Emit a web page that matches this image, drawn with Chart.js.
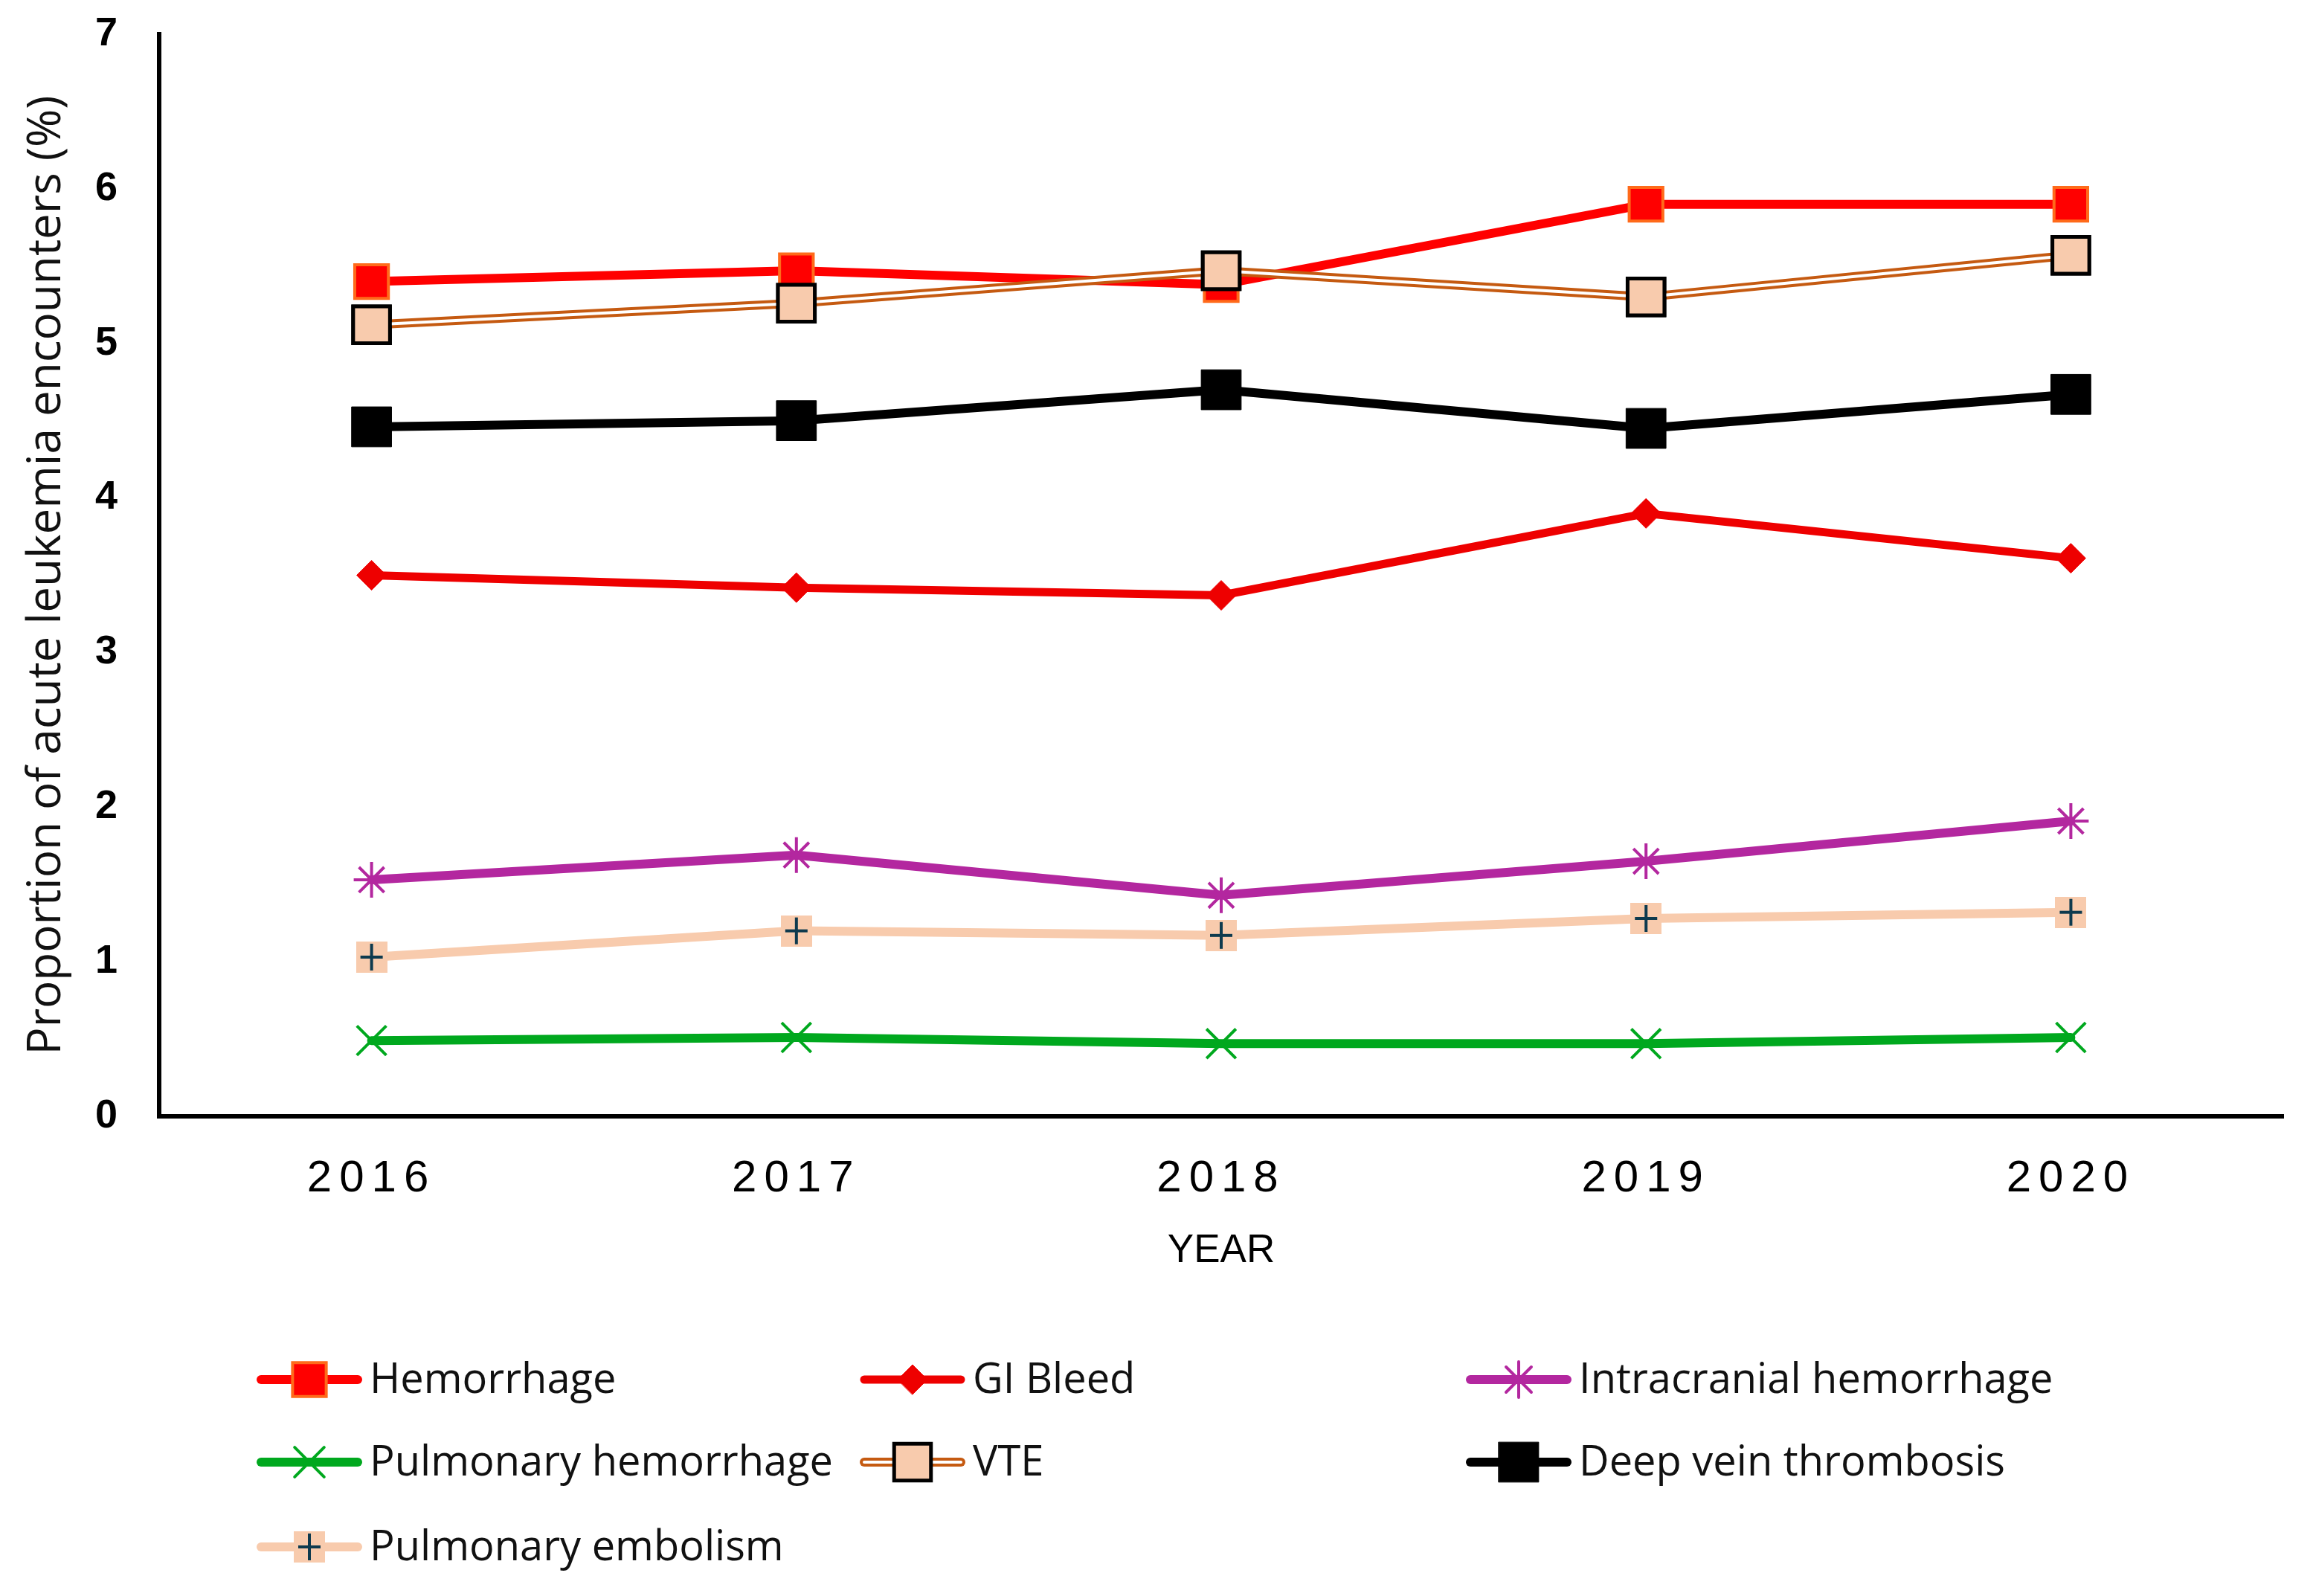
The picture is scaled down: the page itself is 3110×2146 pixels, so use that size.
<!DOCTYPE html>
<html>
<head>
<meta charset="utf-8">
<script src="https://cdn.jsdelivr.net/npm/chart.js@4.4.1/dist/chart.umd.min.js"></script>
<style>
html,body{margin:0;padding:0;background:#fff;}
#wrap{width:3110px;height:2146px;position:relative;}
canvas{display:block;}
</style>
</head>
<body>
<div id="wrap"><canvas id="c" width="3110" height="2146"></canvas></div>
<script>
// ---- data ----
const years = ['2016', '2017', '2018', '2019', '2020'];
const hemorrhage = [5.40, 5.47, 5.38, 5.90, 5.90];
const giBleed = [3.50, 3.42, 3.37, 3.90, 3.61];
const intracranialHemorrhage = [1.53, 1.69, 1.43, 1.65, 1.91];
const pulmonaryHemorrhage = [0.49, 0.51, 0.47, 0.47, 0.51];
const vte = [5.12, 5.26, 5.47, 5.30, 5.57];
const deepVeinThrombosis = [4.46, 4.50, 4.70, 4.45, 4.67];
const pulmonaryEmbolism = [1.03, 1.20, 1.17, 1.28, 1.32];
const seriesNames = ['Hemorrhage', 'GI Bleed', 'Intracranial hemorrhage', 'Pulmonary hemorrhage', 'VTE', 'Deep vein thrombosis', 'Pulmonary embolism'];
const yTickValues = [0, 1, 2, 3, 4, 5, 6, 7];
const xTitle = 'YEAR';
const yTitle = 'Proportion of acute leukemia encounters (%)';

// ---- marker for pulmonary embolism (peach square with navy plus) ----
function plusMarker() {
  const c = document.createElement('canvas');
  c.width = 42; c.height = 42;
  const g = c.getContext('2d');
  g.fillStyle = '#F8CBAD';
  g.fillRect(0, 0, 42, 42);
  g.fillStyle = '#0E3A4E';
  g.fillRect(19, 3, 4, 36);
  g.fillRect(6, 19, 30, 4);
  return c;
}

const baseLine = {borderCapStyle: 'round', borderJoinStyle: 'round', tension: 0, fill: false};

const datasets = [
  Object.assign({}, baseLine, {label: seriesNames[0], data: hemorrhage, order: 6,
    borderColor: '#FF0000', borderWidth: 12,
    pointStyle: 'rect', pointRadius: 32, pointBackgroundColor: '#FF0000', pointBorderColor: '#FF6A1A', pointBorderWidth: 4}),
  Object.assign({}, baseLine, {label: seriesNames[1], data: giBleed, order: 5,
    borderColor: '#EE0000', borderWidth: 11,
    pointStyle: 'rectRot', pointRadius: 20, pointBackgroundColor: '#EE0000', pointBorderColor: '#EE0000', pointBorderWidth: 1}),
  Object.assign({}, baseLine, {label: seriesNames[2], data: intracranialHemorrhage, order: 4,
    borderColor: '#B3279F', borderWidth: 12,
    pointStyle: 'star', pointRadius: 24, pointBackgroundColor: '#B3279F', pointBorderColor: '#B3279F', pointBorderWidth: 4}),
  Object.assign({}, baseLine, {label: seriesNames[3], data: pulmonaryHemorrhage, order: 3,
    borderColor: '#00A81E', borderWidth: 12,
    pointStyle: 'crossRot', pointRadius: 28, pointBackgroundColor: '#00A81E', pointBorderColor: '#00A81E', pointBorderWidth: 4}),
  Object.assign({}, baseLine, {label: seriesNames[4], data: vte, order: 2, doubleLine: true,
    borderColor: '#C55A11', borderWidth: 12,
    pointStyle: 'rect', pointRadius: 35, pointBackgroundColor: '#F8CBAD', pointBorderColor: '#000000', pointBorderWidth: 5}),
  Object.assign({}, baseLine, {label: seriesNames[5], data: deepVeinThrombosis, order: 1,
    borderColor: '#000000', borderWidth: 12,
    pointStyle: 'rect', pointRadius: 38, pointBackgroundColor: '#000000', pointBorderColor: '#000000', pointBorderWidth: 1}),
  Object.assign({}, baseLine, {label: seriesNames[6], data: pulmonaryEmbolism, order: 0,
    borderColor: '#F8CBAD', borderWidth: 12,
    pointStyle: plusMarker(), pointRadius: 21, pointBackgroundColor: '#F8CBAD', pointBorderColor: '#0E3A4E', pointBorderWidth: 0})
];

// scales contribute no extra padding to the layout (chart area set by layout.padding)
const noScalePaddingPlugin = {
  id: 'noScalePadding',
  beforeLayout(chart) {
    Object.values(chart.scales).forEach(s => {
      s.getPadding = () => ({left: 0, top: 0, right: 0, bottom: 0});
    });
  }
};

// double line (VTE): white inner stroke over the library's line, then points re-drawn
const doubleLinePlugin = {
  id: 'doubleLine',
  afterDatasetDraw(chart, args) {
    const ds = chart.data.datasets[args.index];
    if (!ds.doubleLine) return;
    const ctx = chart.ctx;
    const pts = args.meta.data;
    ctx.save();
    ctx.beginPath();
    pts.forEach((p, i) => { if (i === 0) ctx.moveTo(p.x, p.y); else ctx.lineTo(p.x, p.y); });
    ctx.strokeStyle = '#FFFFFF';
    ctx.lineWidth = 4;
    ctx.lineJoin = 'round';
    ctx.lineCap = 'round';
    ctx.stroke();
    ctx.restore();
    pts.forEach(p => p.draw(ctx, chart.chartArea));
  }
};

// letter-spaced x tick labels
const spacedTicksPlugin = {
  id: 'spacedTicks',
  beforeDraw(chart) {
    const s = chart.scales.x;
    if (s && !s._spaced) {
      const orig = s.drawLabels.bind(s);
      s.drawLabels = function (area) {
        chart.ctx.save();
        try { chart.ctx.letterSpacing = '10px'; } catch (e) {}
        orig(area);
        chart.ctx.restore();
      };
      s._spaced = true;
    }
  }
};

// three-column legend below the chart
const legendLayout = {cols: [345, 1156, 1971], rows: [1855, 1966, 2080], lineLen: 142, gap: 10};
const gridLegendPlugin = {
  id: 'gridLegend',
  afterDraw(chart) {
    const ctx = chart.ctx;
    chart.data.datasets.forEach((ds, i) => {
      const col = i % 3, row = Math.floor(i / 3);
      const x0 = legendLayout.cols[col];
      const y = legendLayout.rows[row];
      const x1 = x0 + legendLayout.lineLen;
      ctx.save();
      ctx.lineCap = 'round';
      ctx.beginPath();
      ctx.moveTo(x0 + 6, y); ctx.lineTo(x1 - 6, y);
      ctx.strokeStyle = ds.borderColor;
      ctx.lineWidth = ds.borderWidth;
      ctx.stroke();
      if (ds.doubleLine) {
        ctx.beginPath();
        ctx.moveTo(x0 + 6, y); ctx.lineTo(x1 - 6, y);
        ctx.strokeStyle = '#FFFFFF';
        ctx.lineWidth = 4;
        ctx.stroke();
      }
      const pt = chart.getDatasetMeta(i).data[0];
      const o = pt.options;
      ctx.fillStyle = o.backgroundColor;
      ctx.strokeStyle = o.borderColor;
      ctx.lineWidth = o.borderWidth;
      Chart.helpers.drawPoint(ctx, o, (x0 + x1) / 2, y);
      ctx.fillStyle = '#111111';
      ctx.font = '56px "Open Sans"';
      ctx.textAlign = 'left';
      ctx.textBaseline = 'middle';
      ctx.fillText(ds.label, x1 + legendLayout.gap, y + 2);
      ctx.restore();
    });
  }
};

new Chart(document.getElementById('c'), {
  type: 'line',
  data: {labels: years, datasets: datasets},
  plugins: [noScalePaddingPlugin, doubleLinePlugin, spacedTicksPlugin, gridLegendPlugin],
  options: {
    responsive: false,
    devicePixelRatio: 1,
    animation: false,
    events: [],
    layout: {padding: {left: 0, right: 24, top: 46, bottom: 432}},
    plugins: {legend: {display: false}, tooltip: {enabled: false}},
    scales: {
      x: {
        type: 'category',
        offset: true,
        grid: {display: false, drawTicks: false},
        border: {display: true, color: '#000000', width: 6},
        ticks: {color: '#000000', font: {family: 'Liberation Sans', size: 60, lineHeight: 2.8}, padding: 0},
        title: {display: true, text: xTitle, color: '#000000', font: {family: 'Liberation Sans', size: 53}, padding: {top: 0, bottom: 0}},
        afterFit(s) { s.height = 213; s.paddingLeft = 0; s.paddingRight = 0; }
      },
      y: {
        min: 0,
        max: 7,
        afterBuildTicks(s) { s.ticks = yTickValues.map(v => ({value: v})); },
        grid: {display: false, drawTicks: false},
        border: {display: true, color: '#000000', width: 6},
        ticks: {color: '#000000', font: {family: 'Liberation Sans', size: 54, weight: 'bold'}, padding: 56},
        title: {display: true, text: yTitle, color: '#111111', font: {family: 'Open Sans', size: 62}, padding: {top: 26, bottom: 0}},
        afterFit(s) { s.width = 214; s.paddingTop = 0; s.paddingBottom = 0; }
      }
    }
  }
});
</script>
</body>
</html>
